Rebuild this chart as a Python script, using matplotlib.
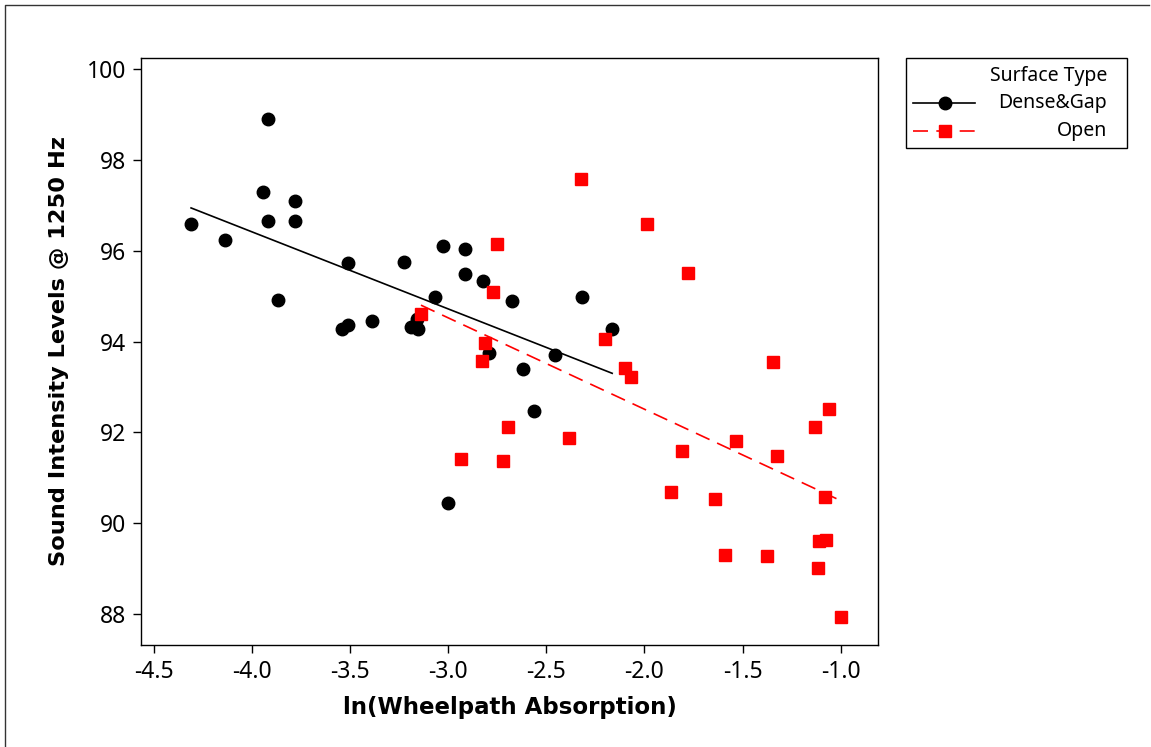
import matplotlib
matplotlib.use("Agg")
import matplotlib.pyplot as plt
from matplotlib.lines import Line2D
from matplotlib.patches import Rectangle
import numpy as np

plt.rcParams["font.family"] = ["Noto Sans", "DejaVu Sans"]
plt.rcParams["axes.unicode_minus"] = False

# Dense&Gap surfaces: ln(absorption) vs sound intensity (dB)
dense_x = [-4.309, -4.135, -3.942, -3.917, -3.917, -3.866, -3.779, -3.779,
           -3.510, -3.541, -3.508, -3.386, -3.223, -3.189, -3.158, -3.154,
           -3.028, -2.912, -2.912, -2.824, -3.068, -2.676, -2.792, -2.620,
           -2.457, -2.318, -2.164, -2.563, -3.002]
dense_y = [96.59, 96.23, 97.29, 98.90, 96.65, 94.91, 97.09, 96.65,
           95.73, 94.27, 94.36, 94.46, 95.75, 94.32, 94.49, 94.27,
           96.10, 96.03, 95.48, 95.34, 94.97, 94.90, 93.74, 93.39,
           93.70, 94.97, 94.28, 92.47, 90.45]

# Open surfaces
open_x = [-3.138, -2.933, -2.827, -2.811, -2.770, -2.752, -2.720, -2.695,
          -2.386, -2.322, -2.200, -2.101, -2.069, -1.989, -1.865, -1.809,
          -1.777, -1.638, -1.589, -1.531, -1.376, -1.344, -1.327, -1.132,
          -1.115, -1.110, -1.082, -1.076, -1.059, -0.999]
open_y = [94.60, 91.42, 93.58, 93.96, 95.09, 96.15, 91.36, 92.11,
          91.87, 97.58, 94.06, 93.41, 93.21, 96.59, 90.68, 91.60,
          95.50, 90.53, 89.30, 91.80, 89.27, 93.55, 91.49, 92.11,
          89.02, 89.61, 90.57, 89.64, 92.52, 87.94]

# fitted regression lines (end points)
fit_dense_x = [-4.309, -2.164]
fit_dense_y = [96.94, 93.30]
fit_open_x = [-3.138, -0.996]
fit_open_y = [94.80, 90.49]

x_ticks = [-4.5, -4.0, -3.5, -3.0, -2.5, -2.0, -1.5, -1.0]
y_ticks = [88, 90, 92, 94, 96, 98, 100]

W, H = 1151, 747
fig = plt.figure(figsize=(W / 100, H / 100), dpi=100)
ax = fig.add_axes([141 / W, 1 - 645 / H, (878 - 141) / W, (645 - 58) / H])

ax.plot(fit_dense_x, fit_dense_y, color="black", lw=1.2)
ax.plot(fit_open_x, fit_open_y, color="red", lw=1.2, linestyle=(0, (9, 5)))
ax.plot(dense_x, dense_y, "o", color="black", ms=9, mec="black")
ax.plot(open_x, open_y, "s", color="red", ms=8, mec="red")

ax.set_xlim(-4.564, -0.81)
ax.set_ylim(87.32, 100.24)
ax.set_xticks(x_ticks)
ax.set_xticklabels(["%.1f" % v for v in x_ticks])
ax.set_yticks(y_ticks)
ax.tick_params(direction="out", length=5.5, width=1.0, labelsize=16.5, pad=5)
for s in ax.spines.values():
    s.set_linewidth(1.0)

ax.set_xlabel("ln(Wheelpath Absorption)", fontsize=16.5, fontweight="bold",
              family="DejaVu Sans", labelpad=9)
ax.set_ylabel("Sound Intensity Levels @ 1250 Hz", fontsize=16.2, fontweight="bold",
              family="DejaVu Sans", labelpad=13)

# hand-built legend box on the right, in figure pixels
def fx(px):
    return px / W

def fy(py):
    return 1 - py / H

fig.add_artist(Rectangle((fx(906), fy(148)), fx(1127) - fx(906), fy(58) - fy(148),
                         transform=fig.transFigure, fill=False, ec="black", lw=1.0))
fig.text(fx(1107), fy(76), "Surface Type", ha="right", va="center", fontsize=14)
fig.text(fx(1107), fy(103), "Dense&Gap", ha="right", va="center", fontsize=14)
fig.text(fx(1107), fy(131), "Open", ha="right", va="center", fontsize=14)
fig.add_artist(Line2D([fx(913), fx(975)], [fy(103), fy(103)], transform=fig.transFigure,
                      color="black", lw=1.2))
fig.add_artist(Line2D([fx(945)], [fy(103)], transform=fig.transFigure, marker="o",
                      color="black", ms=9))
fig.add_artist(Line2D([fx(913), fx(975)], [fy(131), fy(131)], transform=fig.transFigure,
                      color="red", lw=1.2, linestyle=(0, (9, 5))))
fig.add_artist(Line2D([fx(945)], [fy(131)], transform=fig.transFigure, marker="s",
                      color="red", ms=8))

# outer frame (left and top edges)
fig.add_artist(Line2D([fx(4.5), fx(4.5), fx(1149)], [0, fy(5), fy(5)],
                      transform=fig.transFigure, color="#333333", lw=1.0))

fig.savefig("out.png", dpi=100)
